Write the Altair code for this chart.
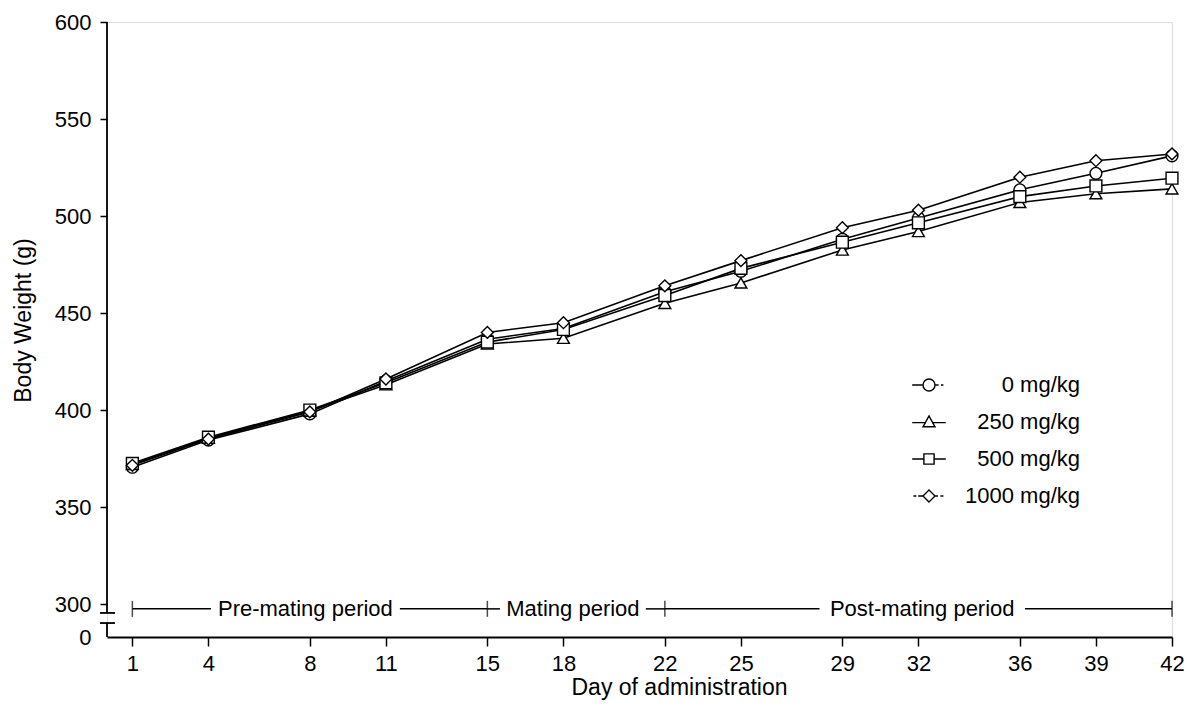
import altair as alt
import pandas as pd

FONT = "Liberation Sans"

# ---- data ----
days = [1, 4, 8, 11, 15, 18, 22, 25, 29, 32, 36, 39, 42]
doses = ["0 mg/kg", "250 mg/kg", "500 mg/kg", "1000 mg/kg"]
w_0 = [370.5, 384.5, 398.0, 415.0, 436.5, 442.0, 461.0, 471.5, 488.0, 499.0, 513.5, 522.0, 531.0]
w_250 = [372.0, 385.5, 399.5, 413.0, 434.0, 437.0, 455.0, 465.5, 482.5, 492.0, 507.0, 511.5, 514.0]
w_500 = [372.5, 386.0, 400.0, 414.0, 435.0, 441.5, 459.0, 473.0, 486.5, 496.5, 510.0, 515.5, 519.5]
w_1000 = [371.5, 385.0, 399.0, 416.0, 440.0, 445.0, 464.0, 477.0, 494.0, 503.0, 520.0, 528.5, 532.0]
weights = [w_0, w_250, w_500, w_1000]

period_names = ["Pre-mating period", "Mating period", "Post-mating period"]
period_start = [1, 15, 22]
period_end = [15, 22, 42]
period_gap_left = [4.1, 15.5, 28.1]
period_gap_right = [11.55, 21.25, 36.2]
period_level = 297.5

y_ticks = [283, 300, 350, 400, 450, 500, 550, 600]
y_top, y_break_hi, y_break_lo, y_floor = 600, 295.4, 290.2, 283

# ---- tables ----
rows = []
for dose, series in zip(doses, weights):
    for d, w in zip(days, series):
        rows.append({"day": d, "weight": w, "dose": dose})
df = pd.DataFrame(rows)

seg_rows = []
for s, e, gl, gr in zip(period_start, period_end, period_gap_left, period_gap_right):
    seg_rows.append({"day": s, "day2": gl, "weight": period_level})
    seg_rows.append({"day": gr, "day2": e, "weight": period_level})
seg_df = pd.DataFrame(seg_rows)
txt_df = pd.DataFrame({
    "day": [(a + b) / 2 for a, b in zip(period_gap_left, period_gap_right)],
    "weight": [period_level] * 3,
    "label": period_names,
})
bound_df = pd.DataFrame({"day": sorted(set(period_start + period_end)),
                         "weight": [period_level] * 4})
yaxis_df = pd.DataFrame({"day": [0, 0], "weight": [y_top, y_break_lo],
                         "weight2": [y_break_hi, y_floor]})
brk_df = pd.DataFrame({"weight": [y_break_hi, y_break_lo]})
# legend-only rows (kept outside the plotted domain, clipped away)
leg_df = pd.DataFrame({"day": [-10] * 4, "weight": [450] * 4, "dose": doses})

# ---- scales / axes ----
xscale = alt.Scale(domain=[0, 42], nice=False, zero=False)
yscale = alt.Scale(domain=[y_floor, y_top], nice=False, zero=False)

xaxis = alt.Axis(values=days, grid=False, tickSize=9, tickWidth=1.5, tickColor="black",
                 domainColor="black", domainWidth=1.8, labelFontSize=22, labelFont=FONT,
                 labelColor="black", labelPadding=24, labelBaseline="alphabetic",
                 labelFlush=False, title="Day of administration", titleFontSize=23,
                 titleFont=FONT, titleFontWeight="normal", titleColor="black",
                 titleX=572, titleY=57, titleBaseline="alphabetic", titleAlign="center")
yaxis = alt.Axis(values=y_ticks, grid=False, domain=False, tickSize=7, tickWidth=1.5,
                 tickColor="black",
                 tickOpacity={"condition": {"test": "datum.value < 290", "value": 0}, "value": 1},
                 labelExpr="datum.value < 290 ? '0' : datum.label",
                 labelFontSize=22, labelFont=FONT, labelColor="black", labelPadding=9,
                 title="Body Weight (g)", titleFontSize=23, titleFont=FONT,
                 titleFontWeight="normal", titleColor="black", titleX=-84, titleY=298,
                 titleAngle=270, titleBaseline="middle", titleAlign="center")

X = alt.X("day:Q", scale=xscale, axis=xaxis)
Y = alt.Y("weight:Q", scale=yscale, axis=yaxis)

# ---- legend symbols: marker with line stubs ----
shape_paths = [
    "M-2.8,0H-1M1,0H1.6M2.0,0H2.4M-1,0A1,1 0 1,1 1,0A1,1 0 1,1 -1,0Z",
    "M-2.8,0.1H-0.5M0.5,0.1H2.8M-1,0.8L0,-1L1,0.8Z",
    "M-2.8,0H-0.85M0.85,0H2.8M-0.85,-0.85H0.85V0.85H-0.85Z",
    "M-2.6,0H-2.1M-1.8,0H-1M1,0H1.5M1.9,0H2.4M-1,0L0,-1L1,0L0,1Z",
]

legend = alt.Legend(
    title=None, orient="none", legendX=811, legendY=352, padding=0,
    labelFontSize=22, labelFont=FONT, labelColor="black", labelAlign="right",
    labelOffset=140, rowPadding=15, symbolSize=144, labelLimit=400,
    symbolStrokeColor="black", symbolStrokeWidth=1.4, symbolOpacity=1,
)

lines = alt.Chart(df).mark_line(color="black", strokeWidth=1.6).encode(
    x=X, y=Y, detail="dose:N")
points = alt.Chart(df).mark_point(filled=True, fill="white", stroke="black",
                                  strokeWidth=1.4, size=140, opacity=1).encode(
    x=X, y=Y,
    shape=alt.Shape("dose:N",
                    scale=alt.Scale(domain=doses,
                                    range=["circle", "triangle-up", "square", "diamond"]),
                    legend=None))
legend_layer = alt.Chart(leg_df).mark_point(filled=False, color="black", strokeWidth=1.4,
                                            size=144, opacity=1, clip=True).encode(
    x=X, y=Y,
    shape=alt.Shape("dose:N", scale=alt.Scale(domain=doses, range=shape_paths),
                    legend=legend))

yline = alt.Chart(yaxis_df).mark_rule(color="black", strokeWidth=1.8).encode(
    x=X, y=Y, y2="weight2:Q")
brk = alt.Chart(brk_df).mark_rule(color="black", strokeWidth=1.8).encode(
    y=Y, x=alt.value(-7), x2=alt.value(8))

segs = alt.Chart(seg_df).mark_rule(color="black", strokeWidth=1.5).encode(
    x=X, x2="day2:Q", y=Y)
bounds = alt.Chart(bound_df).mark_tick(color="black", orient="vertical", size=16,
                                       thickness=1.5).encode(x=X, y=Y)
texts = alt.Chart(txt_df).mark_text(font=FONT, fontSize=22, color="black",
                                    align="center", baseline="middle").encode(
    x=X, y=Y, text="label:N")

chart = alt.layer(yline, brk, segs, bounds, texts, lines, points, legend_layer).resolve_scale(
    shape="independent"
).properties(
    width=1065, height=615,
    autosize=alt.AutoSizeParams(type="none"),
    padding={"left": 99, "top": 14, "right": 24, "bottom": 64},
).configure_view(stroke=None).configure(background="white")

chart.save("out.html", embed_options={"renderer": "svg", "actions": False})
